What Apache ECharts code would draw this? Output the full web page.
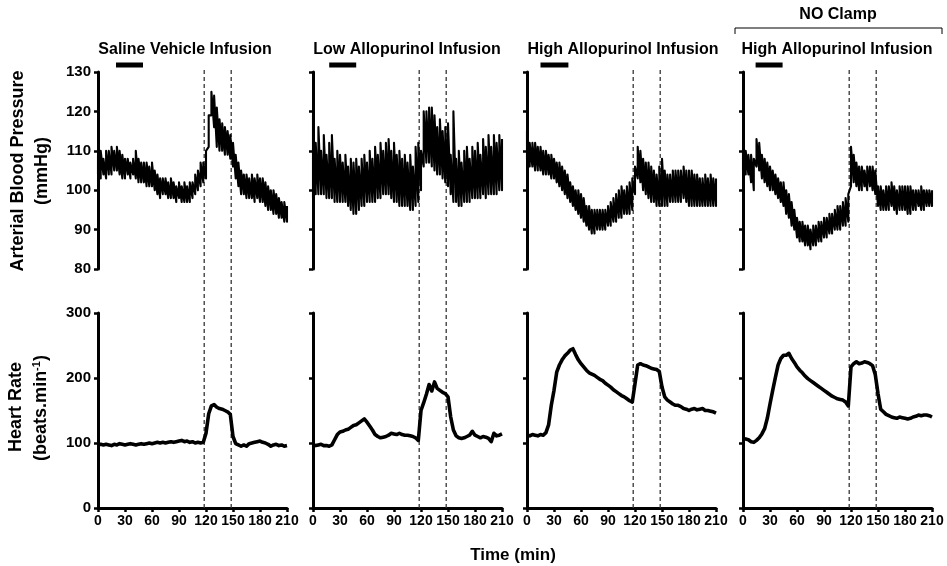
<!DOCTYPE html>
<html><head><meta charset="utf-8">
<script src="https://cdn.jsdelivr.net/npm/echarts@6/dist/echarts.min.js"></script>
<style>html,body{margin:0;padding:0;background:#fff}#chart{width:947px;height:566px}</style>
</head><body><div id="chart"></div>
<script>
// ---- data ----
const times = [0,3,6,9,12,15,18,21,24,27,30,33,36,39,42,45,48,51,54,57,60,63,66,69,72,75,78,81,84,87,90,93,96,99,102,105,108,111,114,117,120,123,126,129,132,135,138,141,144,147,150,153,156,159,162,165,168,171,174,177,180,183,186,189,192,195,198,201,204,207,210];

const panelTitles = ['Saline Vehicle Infusion','Low Allopurinol Infusion','High Allopurinol Infusion','High Allopurinol Infusion'];

// arterial blood pressure: upper and lower edges of the pulsatile trace (mmHg)
const salineBPHi = [109,110,108,110,110,111,110,111,110,109, 108,108,107,108,110,108,107,107,107,106, 107,105,104,103,103,103,102,103,102,101, 102,101,102,101,102,102,104,105,107,107, 110,119,125,124,121,118,117,116,115,114, 112,109,107,105,104,104,103,104,103,104, 103,103,102,101,100,100,99,98,97,97,96];
const salineBPLo = [104,103,104,103,104,104,105,105,104,103, 103,104,103,104,103,102,102,102,101,101, 101,100,99,98,99,99,98,98,98,97, 98,97,97,97,97,98,99,100,101,102, 103,111,119,116,111,110,110,109,109,108, 106,103,101,99,99,98,98,98,97,98, 97,97,96,95,95,94,94,93,93,92,92];
const lowBPHi = [119,112,116,110,114,109,112,114,108,110, 109,107,109,106,108,107,108,106,108,109, 107,110,108,111,109,112,110,112,113,110, 112,109,110,108,109,107,109,106,111,112, 110,120,120,121,121,119,116,118,115,116, 117,109,120,108,110,107,110,111,108,111, 110,112,109,113,111,114,111,114,112,114,113];
const lowBPLo = [98,99,99,99,99,98,98,98,97,97, 97,97,97,96,95,94,94,95,96,96, 97,97,97,97,98,98,99,99,99,98, 97,97,96,96,96,96,95,95,96,97, 100,106,107,107,106,105,104,104,103,102, 101,99,97,97,96,96,97,97,97,98, 98,98,98,99,98,99,99,99,99,100,100];
const highBPHi = [115,112,112,112,111,111,110,110,109,109, 108,107,107,106,105,104,102,101,100,100, 99,98,96,96,95,95,95,95,95,95, 96,97,98,99,100,101,100,101,102,103, 106,111,110,108,107,107,106,105,104,106, 108,105,104,104,105,105,105,105,106,105, 105,105,104,104,103,103,104,103,104,103,103];
const highBPLo = [108,106,106,105,105,105,104,104,104,103, 103,102,101,100,99,98,97,96,95,94, 93,92,91,90,89,89,90,90,90,90, 91,91,92,92,93,93,94,94,94,95, 99,103,102,100,99,98,97,97,96,96, 96,96,96,97,97,97,97,97,98,97, 96,96,96,96,96,96,96,96,96,96,96];
const clampBPHi = [110,110,109,109,108,113,112,109,108,107, 106,105,104,103,102,102,100,99,97,95, 93,92,92,91,91,90,91,91,92,92, 93,93,94,94,95,96,96,97,98,99, 111,109,107,106,106,105,106,106,106,105, 101,101,100,101,101,102,101,100,101,101, 101,101,101,100,100,100,101,100,100,100,100];
const clampBPLo = [105,104,104,102,100,106,105,103,102,101, 100,100,99,98,97,96,94,93,91,90, 88,87,87,86,86,85,86,86,87,87, 88,88,89,89,90,90,90,91,91,92, 101,102,101,100,100,101,100,101,100,99, 96,95,95,95,95,96,95,94,95,95, 95,94,94,95,95,96,95,95,96,96,96];

// heart rate (beats/min)
const salineHR = [97,98,97,98,97,96,98,97,99,98, 97,98,99,98,97,98,99,98,99,100, 99,100,101,100,101,100,101,102,101,102, 103,104,102,103,101,102,100,101,100,101, 115,145,157,159,155,153,152,150,148,144, 110,99,97,95,97,95,99,100,101,102, 103,101,100,98,95,97,98,96,97,95,96];
const lowHR = [97,96,97,98,96,96,95,97,105,113, 117,118,120,121,124,127,128,131,134,137, 132,126,120,113,110,108,109,110,112,115, 114,113,115,113,112,112,111,110,108,104, 150,162,175,190,180,194,184,181,178,176, 171,140,120,111,108,107,108,110,112,118, 112,110,108,110,109,107,102,115,111,112,114];
const highHR = [112,111,113,112,111,113,112,116,128,158, 181,209,220,228,234,238,243,245,236,228, 222,217,212,208,206,204,201,198,196,192, 189,186,182,179,176,173,171,168,165,163, 191,220,222,220,219,217,215,214,213,210, 186,171,166,163,160,158,158,156,153,152, 150,152,153,151,152,153,150,150,149,148,146];
const clampHR = [107,106,105,102,101,104,108,114,122,138, 160,181,201,220,230,235,235,238,230,224, 217,212,208,203,199,196,193,190,187,184, 181,178,175,172,170,168,167,166,163,157, 217,222,225,222,223,225,224,222,219,205, 176,152,148,144,142,140,139,138,140,139, 138,137,138,140,141,143,142,143,143,142,140];

const bpHi = [salineBPHi, lowBPHi, highBPHi, clampBPHi];
const bpLo = [salineBPLo, lowBPLo, highBPLo, clampBPLo];
const hrData = [salineHR, lowHR, highHR, clampHR];

// infusion bar (min) and clamp period markers (min)
const infusionStart = [20, 18, 15, 14];
const infusionEnd = [50, 48, 46, 44];
const clampMarks = [118, 148];

// ---- layout / style ----
const FONT = '"Liberation Sans", Arial, Helvetica, sans-serif';
const lefts = [98, 313, 527, 743];
const W = 189;
const AX = {color: '#000', width: 3};
const TICK = {show: true, inside: false, length: 4, lineStyle: {color: '#000', width: 2.5}};

const chart = echarts.init(document.getElementById('chart'), null, {renderer: 'canvas'});
const grids = [], xAxis = [], yAxis = [], series = [];

for (let c = 0; c < 4; c++) {
  grids[c] = {left: lefts[c], width: W, top: 72, height: 197};
  grids[4 + c] = {left: lefts[c], width: W, top: 313, height: 195};
  grids[8 + c] = {left: lefts[c], width: W, top: 68, height: 440};

  xAxis[c] = {gridIndex: c, type: 'value', min: 0, max: 210, show: false};
  xAxis[4 + c] = {
    gridIndex: 4 + c, type: 'value', min: 0, max: 210, interval: 30,
    axisLine: {show: true, lineStyle: AX},
    axisTick: TICK,
    axisLabel: {show: true, color: '#000', fontFamily: FONT, fontWeight: 'bold', fontSize: 14, margin: 6},
    splitLine: {show: false}
  };
  xAxis[8 + c] = {gridIndex: 8 + c, type: 'value', min: 0, max: 210, show: false};

  yAxis[c] = {
    gridIndex: c, type: 'value', min: 80, max: 130, interval: 10,
    axisLine: {show: true, lineStyle: AX},
    axisTick: TICK,
    axisLabel: {show: c === 0, color: '#000', fontFamily: FONT, fontWeight: 'bold', fontSize: 15, margin: 7},
    splitLine: {show: false}
  };
  yAxis[4 + c] = {
    gridIndex: 4 + c, type: 'value', min: 0, max: 300, interval: 100,
    axisLine: {show: true, lineStyle: AX},
    axisTick: TICK,
    axisLabel: {show: c === 0, color: '#000', fontFamily: FONT, fontWeight: 'bold', fontSize: 15, margin: 7},
    splitLine: {show: false}
  };
  yAxis[8 + c] = {gridIndex: 8 + c, type: 'value', min: 0, max: 1, show: false};

  // clamp period dashed markers spanning both rows
  clampMarks.forEach(m => {
    series.push({
      type: 'line', xAxisIndex: 8 + c, yAxisIndex: 8 + c, z: 1,
      data: [[m, 0], [m, 1]], showSymbol: false, silent: true,
      lineStyle: {color: '#333', width: 1.3, type: [4, 3]}
    });
  });

  // pulsatile blood pressure trace
  const zig = [];
  times.forEach((t, i) => { zig.push([t, bpLo[c][i]]); zig.push([t, bpHi[c][i]]); });
  series.push({
    type: 'line', xAxisIndex: c, yAxisIndex: c, z: 3, data: zig,
    showSymbol: false, silent: true, sampling: null,
    lineStyle: {color: '#000', width: 2.1, join: 'round'}
  });

  // heart rate trace
  series.push({
    type: 'line', xAxisIndex: 4 + c, yAxisIndex: 4 + c, z: 3,
    data: times.map((t, i) => [t, hrData[c][i]]),
    showSymbol: false, silent: true,
    lineStyle: {color: '#000', width: 3.6, join: 'round'}
  });

  // infusion bar
  series.push({
    type: 'line', xAxisIndex: c, yAxisIndex: c, z: 3, clip: false,
    data: [[infusionStart[c], 131.8], [infusionEnd[c], 131.8]],
    showSymbol: false, silent: true,
    lineStyle: {color: '#000', width: 5, cap: 'butt'}
  });
}

const txt = (text, x, y, size, rot, extra) => ({
  type: 'text', x: x, y: y, rotation: rot || 0, silent: true,
  style: Object.assign({
    text: text, fill: '#000', font: 'bold ' + size + 'px ' + FONT,
    textAlign: 'center', textVerticalAlign: 'middle'
  }, extra || {})
});

const titleX = [185, 407, 623, 837];
const graphic = [];
panelTitles.forEach((t, i) => graphic.push(txt(t, titleX[i], 50, 16)));
graphic.push(txt('NO Clamp', 838, 15, 16));
graphic.push({type: 'polyline', silent: true,
  shape: {points: [[735, 34], [735, 28], [942, 28], [942, 34]]},
  style: {stroke: '#000', lineWidth: 1, fill: null}});
graphic.push(txt('Arterial Blood Pressure', 18, 171, 18, Math.PI / 2));
graphic.push(txt('(mmHg)', 42, 171, 18, Math.PI / 2));
graphic.push(txt('Heart Rate', 16, 407, 18, Math.PI / 2));
graphic.push(txt('(beats.min{sup|-1})', 41, 408, 18, Math.PI / 2, {
  rich: {sup: {fontSize: 11, fontWeight: 'bold', fontFamily: FONT, fill: '#000', padding: [0, 0, 9, 0]}}
}));
graphic.push(txt('Time (min)', 513, 555, 17));

chart.setOption({
  animation: false,
  backgroundColor: '#fff',
  grid: grids, xAxis: xAxis, yAxis: yAxis, series: series, graphic: graphic
});
</script></body></html>
